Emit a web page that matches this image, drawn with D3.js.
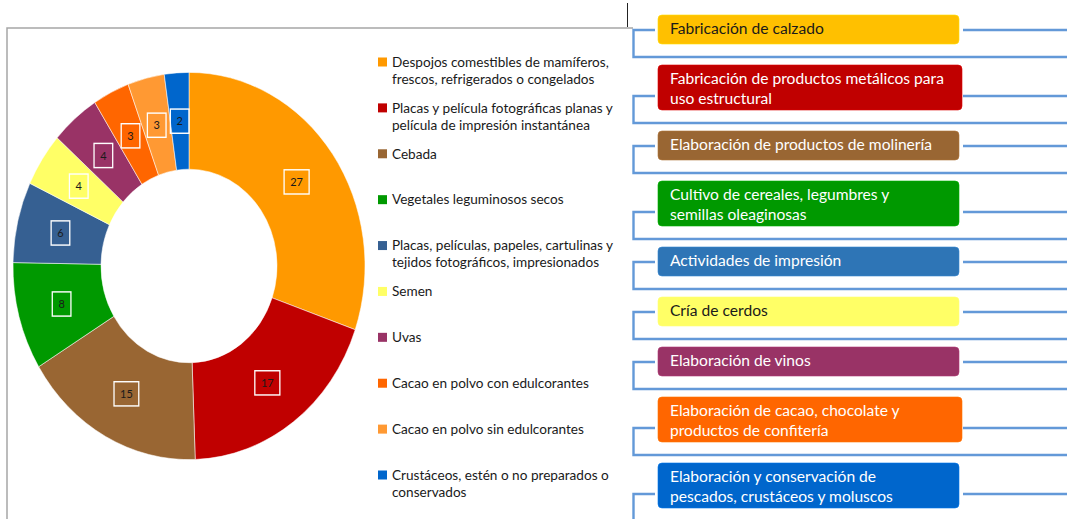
<!DOCTYPE html>
<html>
<head>
<meta charset="utf-8">
<script src="https://cdn.jsdelivr.net/npm/d3@7"></script>
<style>
  html, body { margin: 0; padding: 0; background: #fff; }
  svg { display: block; font-family: Lato, "Open Sans", sans-serif; }
</style>
</head>
<body>
<div id="chart"></div>
<script>
const products = [
  "Despojos comestibles de mamíferos,\nfrescos, refrigerados o congelados",
  "Placas y película fotográficas planas y\npelícula de impresión instantánea",
  "Cebada",
  "Vegetales leguminosos secos",
  "Placas, películas, papeles, cartulinas y\ntejidos fotográficos, impresionados",
  "Semen",
  "Uvas",
  "Cacao en polvo con edulcorantes",
  "Cacao en polvo sin edulcorantes",
  "Crustáceos, estén o no preparados o\nconservados"
]
const values = [27, 17, 15, 8, 6, 4, 4, 3, 3, 2]
const productColors = ["#ff9900", "#c00000", "#996633", "#009900", "#366092", "#ffff66", "#993366", "#ff6600", "#ff9933", "#0066cc"]

const activities = [
  "Fabricación de calzado",
  "Fabricación de productos metálicos para\nuso estructural",
  "Elaboración de productos de molinería",
  "Cultivo de cereales, legumbres y\nsemillas oleaginosas",
  "Actividades de impresión",
  "Cría de cerdos",
  "Elaboración de vinos",
  "Elaboración de cacao, chocolate y\nproductos de confitería",
  "Elaboración y conservación de\npescados, crustáceos y moluscos"
]
const activityColors = ["#ffc000", "#c00000", "#996633", "#009900", "#2e75b6", "#ffff66", "#993366", "#ff6600", "#0066cc"]
const activityText = ["#1a1a1a", "#fff", "#fff", "#fff", "#fff", "#1a1a1a", "#fff", "#fff", "#fff"]

const width = 1067
const height = 519

const svg = d3.select("#chart")
  .append("svg")
  .attr("width", width)
  .attr("height", height)
  .attr("viewBox", `0 0 ${width} ${height}`)

// chart frame (only top and left edges are visible in the crop)
svg.append("path")
  .attr("d", `M7,${height}V28H633`)
  .attr("fill", "none")
  .attr("stroke", "#a6a6a6")
  .attr("stroke-width", 1.5)

svg.append("line")
  .attr("x1", 627.5).attr("x2", 627.5)
  .attr("y1", 3).attr("y2", 27)
  .attr("stroke", "#222")
  .attr("stroke-width", 1)

// donut (source picture is stretched vertically)
const pie = d3.pie().sort(null).value(d => d)
const arc = d3.arc().innerRadius(88).outerRadius(176)
const slices = pie(values)

const donut = svg.append("g")
  .attr("transform", "translate(189,266) scale(1,1.1)")

donut.selectAll("path")
  .data(slices)
  .join("path")
  .attr("d", arc)
  .attr("fill", (d, i) => productColors[i])
  .attr("stroke", "#fff")
  .attr("stroke-width", 0.5)

const labels = donut.selectAll("g.label")
  .data(slices)
  .join("g")
  .attr("class", "label")
  .attr("transform", d => `translate(${arc.centroid(d)})`)

labels.append("text")
  .attr("text-anchor", "middle")
  .attr("dy", "0.35em")
  .attr("font-size", 11)
  .attr("fill", "#1a1a1a")
  .text(d => d.value)

labels.insert("rect", "text")
  .each(function () {
    const box = this.parentNode.querySelector("text").getBBox()
    d3.select(this)
      .attr("x", -box.width / 2 - 6)
      .attr("y", -11)
      .attr("width", box.width + 12)
      .attr("height", 22)
  })
  .attr("fill", "none")
  .attr("stroke", "#fff")
  .attr("stroke-width", 1.3)

// legend
const legendY = d3.scalePoint().domain(products).range([62, 475])

const legend = svg.append("g")
  .selectAll("g")
  .data(products)
  .join("g")
  .attr("transform", d => `translate(378,${legendY(d)})`)

legend.append("rect")
  .attr("y", -4.5)
  .attr("width", 9)
  .attr("height", 9)
  .attr("fill", (d, i) => productColors[i])

legend.append("text")
  .attr("font-size", 13.6)
  .attr("fill", "#1a1a1a")
  .selectAll("tspan")
  .data(d => d.split("\n"))
  .join("tspan")
  .attr("x", 14)
  .attr("y", (d, i) => i * 17)
  .attr("dy", "0.35em")
  .text(d => d)

// activity boxes with blue brackets
const boxHeight = text => text.includes("\n") ? 45 : 29
const boxTops = activities.reduce((tops, text, i) => {
  tops.push(i === 0 ? 15 : tops[i - 1] + boxHeight(activities[i - 1]) + 21)
  return tops
}, [])

const boxes = svg.append("g")
  .selectAll("g")
  .data(activities)
  .join("g")
  .attr("transform", (d, i) => `translate(0,${boxTops[i]})`)

boxes.append("path")
  .attr("d", d => {
    const stub = boxHeight(d) - 14
    return `M655,${stub}H633.5V${stub + 27}H${width}M963,${stub}H${width}`
  })
  .attr("fill", "none")
  .attr("stroke", "#6399d8")
  .attr("stroke-width", 2.4)

boxes.append("rect")
  .attr("x", 658)
  .attr("width", (d, i) => i === 1 || i === 7 ? 304 : 301)
  .attr("height", d => boxHeight(d))
  .attr("rx", 4)
  .attr("fill", (d, i) => activityColors[i])
  .attr("stroke", (d, i) => d3.color(activityColors[i]).brighter(0.4))
  .attr("stroke-width", 0.6)

boxes.append("text")
  .attr("font-size", 15.6)
  .attr("fill", (d, i) => activityText[i])
  .selectAll("tspan")
  .data(d => d.split("\n"))
  .join("tspan")
  .attr("x", 670)
  .attr("y", (d, i) => 14 + i * 19.5)
  .attr("dy", "0.35em")
  .text(d => d)
</script>
</body>
</html>
